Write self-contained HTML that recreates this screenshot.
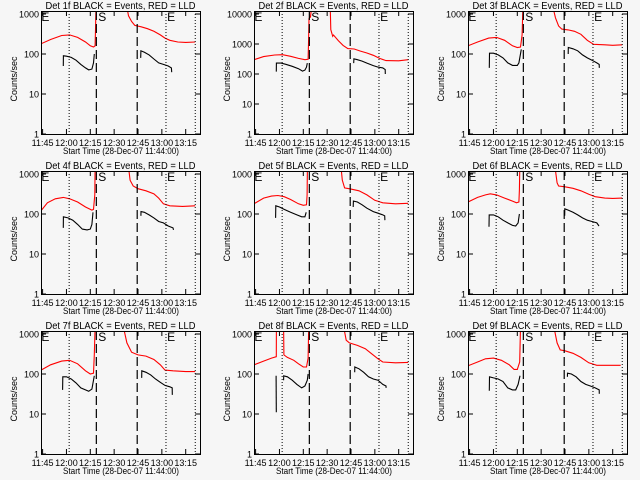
<!DOCTYPE html>
<html><head><meta charset="utf-8"><style>
html,body{margin:0;padding:0;background:#f6f6f6;}
svg{display:block;font-family:"Liberation Sans",sans-serif;}
</style></head><body>
<svg id="chart" width="640" height="480" viewBox="0 0 640 480" xmlns="http://www.w3.org/2000/svg">
<rect x="0" y="0" width="640" height="480" fill="#f6f6f6"/>
</svg>
<script>
const detNames = ["1f","2f","3f","4f","5f","6f","7f","8f","9f"];
const yMaxLog = [3.075,4.1,3.075,3.075,3.075,3.075,3.075,3.075,3.075];
const xTickTimes = [0,15,30,45,60,75,90];
const xTickLabels = ["11:45","12:00","12:15","12:30","12:45","13:00","13:15"];
const yTickValues = [1,10,100,1000,10000];
const yTickLabels = ["1","10","100","1000","10000"];
const dottedTimes = [16.7,77.6,96];
const dashedTimes = [33.8,59.5];
const markerLabels = ["E","S","E"];
const markerTimes = [-0.8,35,78.3];

const redTimes = [
 [[-1,5,12,17,22,27,30,32,33,33.3,33.6],[53,54,56,58,62,66,70,74,77,80,85,90,96]],
 [[-1,5,12,17,22,27,31,33,33.3,33.6,34.5,35],[47,47.3,48.5,49,52,55,58,62,66,70,74,78,82,90,96]],
 [[-1,5,12,17,22,27,30,32,33,33.5],[52.4,54,56,58,62,66,70,74,78,85,90,96]],
 [[-1,3,8,13,17,22,27,31,32,32.8,33],[54,55,57,60,65,70,73,76,80,88,96]],
 [[-1,5,10,14,18,22,27,30,32,32.4,32.6],[53.7,54.5,56,60,65,70,75,80,88,96]],
 [[-1,5,10,13,17,22,27,29.5,31,31.3,31.6],[53.7,55,56,60,65,70,75,79,85,90,96]],
 [[-1,5,12,17,22,27,30,32,32.5,33],[50.8,53,56,60,65,70,74,77,82,90,96]],
 [[-1,5,10,13,13.1],[17.6,17.8,20,24,27,30,32,33,33.4],[55.4,57,59,64,69,73,77,80,88,96]],
 [[-1,5,10,15,20,25,28,30,31.5,32],[53,55,57,60,65,70,75,80,88,95]]
];
const redVals = [
 [[180,230,290,300,260,200,160,150,160,400,1500],[1500,900,650,520,480,430,370,300,250,220,200,195,200]],
 [[300,380,430,440,390,330,300,310,1000,7000,8000,14000],[14000,3000,1800,2000,1300,900,700,680,580,500,420,330,280,275,300]],
 [[160,200,250,260,220,160,145,150,300,1500],[1500,800,500,420,400,370,310,220,175,170,165,170]],
 [[120,190,240,260,240,200,150,125,130,300,1500],[1500,700,500,430,380,320,250,180,160,155,160]],
 [[180,250,280,290,270,230,180,165,170,300,1500],[1500,700,450,420,380,300,220,190,180,185]],
 [[200,260,300,320,300,250,210,190,200,400,1500],[1500,600,500,480,440,380,310,270,250,245,250]],
 [[125,170,210,220,180,120,100,105,300,1500],[1500,600,350,300,280,230,170,125,120,115,115]],
 [[170,210,250,270,1500],[1500,300,260,220,180,150,150,250,1500],[1500,700,600,520,430,320,240,200,190,195]],
 [[160,200,240,250,220,170,130,130,200,1500],[1500,600,400,380,330,260,190,165,165,165]]
];
const blackTimes = [
 [[13,13.1,15,18,21,24,27,29,31,32,32.5],[61.7,61.8,64,67,70,73,76,79,81,81.2]],
 [[13,13.1,16,19,23,27,29.5,31,32,32.5],[61.7,61.8,64,67,70,74,77,80,81.5,81.6]],
 [[12.4,12.5,15,18,21,24,27,30,31,32.5],[62,62.1,65,68,71,74,77,80,81.5,81.6]],
 [[13,13.1,16,19,22,25,28,30,31,31.7],[61.8,61.9,64,67,70,73,76,79,82,82.3]],
 [[12.6,12.7,15,18,22,26,29,31,31.8],[61.4,61.5,64,67,70,74,77,80,81.2,81.3]],
 [[12.2,12.3,15,18,21,24,27,29,30.5,31.3],[59.8,59.9,62,65,68,71,74,77,80,81.4]],
 [[12.6,12.7,15,18,21,24,27,29,31,32.5],[62.3,62.4,65,68,71,74,77,80,81.5,81.6]],
 [[12.9,13],[17.6,17.7,20,23,26,29,31,32.5,33],[62.3,62.4,65,68,71,74,77,80,82,82.1]],
 [[12.4,12.5,15,18,21,24,27,29,30.5,31.7],[61.5,61.6,64,67,70,73,76,79,81.5,81.6]]
];
const blackVals = [
 [[50,90,88,82,70,55,45,40,42,60,100],[80,120,110,95,75,60,55,50,45,35]],
 [[120,230,230,210,180,150,125,135,170,230],[230,320,300,270,230,190,170,160,140,100]],
 [[45,105,105,95,80,60,52,52,60,130],[100,145,135,120,95,80,70,60,55,45]],
 [[45,85,80,70,55,42,40,42,55,110],[90,115,110,95,80,65,60,50,45,40]],
 [[80,160,150,130,110,95,85,85,110],[150,210,200,170,140,115,105,95,90,70]],
 [[48,95,95,85,70,60,52,50,60,100],[90,135,125,110,95,80,70,65,60,50]],
 [[40,85,85,75,60,45,40,37,42,90],[80,120,110,95,75,62,52,48,45,30]],
 [[90,11],[70,90,85,70,55,45,50,70,100],[110,150,135,110,85,75,70,55,50,45]],
 [[38,85,80,75,65,45,40,40,55,90],[85,105,100,85,65,55,50,45,40,32]]
];

const NS = "http://www.w3.org/2000/svg";
const svg = document.getElementById("chart");
const colOff = [0,213,427], rowOff = [0,160,320];
const BL = 41, BR = 200, BT = 11, BB = 134;
function mk(tag, attrs, parent) {
  const e = document.createElementNS(NS, tag);
  for (const k in attrs) e.setAttribute(k, attrs[k]);
  parent.appendChild(e);
  return e;
}
function xScale(t) { return 42.6 + 1.59 * t; }

for (let p = 0; p < 9; p++) {
  const ox = colOff[p % 3], oy = rowOff[Math.floor(p / 3)];
  const ppd = (BB - BT) / yMaxLog[p];
  const yScale = v => BB - Math.log10(v) * ppd;
  const g = mk("g", {transform: `translate(${ox},${oy})`}, svg);
  
  
  const cp = mk("clipPath", {id: "clip" + p}, g);
  mk("rect", {x: BL, y: BT, width: BR - BL, height: BB - BT}, cp);

  const title = mk("text", {x: 120.5, y: 9, "font-size": 10.5, "text-anchor": "middle", textLength: 150, lengthAdjust: "spacingAndGlyphs"}, g);
  title.textContent = "Det " + detNames[p] + " BLACK = Events, RED = LLD";
  
  

  const sg = mk("g", {"clip-path": `url(#clip${p})`}, g);
  redTimes[p].forEach((seg, si) => {
    const pts = seg.map((t, i) => xScale(t).toFixed(1) + "," + yScale(redVals[p][si][i]).toFixed(1)).join(" ");
    const pl = mk("polyline", {points: pts, fill: "none", stroke: "#ff0000", "stroke-width": 1.1}, sg);
    
    
  });
  blackTimes[p].forEach((seg, si) => {
    const pts = seg.map((t, i) => xScale(t).toFixed(1) + "," + yScale(blackVals[p][si][i]).toFixed(1)).join(" ");
    const pl = mk("polyline", {points: pts, fill: "none", stroke: "#000", "stroke-width": 1.1}, sg);
    
    
  });

  dottedTimes.forEach(t => {
    const l = mk("line", {x1: xScale(t), x2: xScale(t), y1: BT, y2: BB, stroke: "#000", "stroke-width": 1, "stroke-dasharray": "1,2"}, g);
    
    
  });
  dashedTimes.forEach(t => {
    const l = mk("line", {x1: xScale(t), x2: xScale(t), y1: BT, y2: BB, stroke: "#000", "stroke-width": 1.2, "stroke-dasharray": "9,4"}, g);
    
    
  });
  markerLabels.forEach((s, i) => {
    const tx = mk("text", {x: xScale(markerTimes[i]), y: 21, "font-size": 12}, g);
    tx.textContent = s;
    
    
  });

  const box = mk("rect", {x: BL + 0.5, y: BT + 0.5, width: BR - BL, height: BB - BT, fill: "none", stroke: "#000", "stroke-width": 1}, g);
  
  

  xTickTimes.forEach((t, i) => {
    const x = xScale(t);
    mk("line", {x1: x, x2: x, y1: BB, y2: BB - 5, stroke: "#000"}, g);
    mk("line", {x1: x, x2: x, y1: BT, y2: BT + 5, stroke: "#000"}, g);
    const tx = mk("text", {x: x, y: 146, "font-size": 9, "text-anchor": "middle"}, g);
    tx.textContent = xTickLabels[i];
    
    
  });
  yTickValues.forEach((v, i) => {
    if (Math.log10(v) > yMaxLog[p]) return;
    const y = yScale(v);
    mk("line", {x1: BL, x2: BL + 5, y1: y, y2: y, stroke: "#000"}, g);
    mk("line", {x1: BR, x2: BR - 5, y1: y, y2: y, stroke: "#000"}, g);
    const tx = mk("text", {x: 39, y: y + 3.5, "font-size": 9, "text-anchor": "end"}, g);
    tx.textContent = yTickLabels[i];
    
    
  });

  const xt = mk("text", {x: 121, y: 154, "font-size": 9.5, "text-anchor": "middle", textLength: 116, lengthAdjust: "spacingAndGlyphs"}, g);
  xt.textContent = "Start Time (28-Dec-07 11:44:00)";
  
  
  const yt = mk("text", {x: 0, y: 0, "font-size": 9, "text-anchor": "middle", transform: "translate(17,79) rotate(-90)"}, g);
  yt.textContent = "Counts/sec";
  
  
}
</script>
</body></html>
